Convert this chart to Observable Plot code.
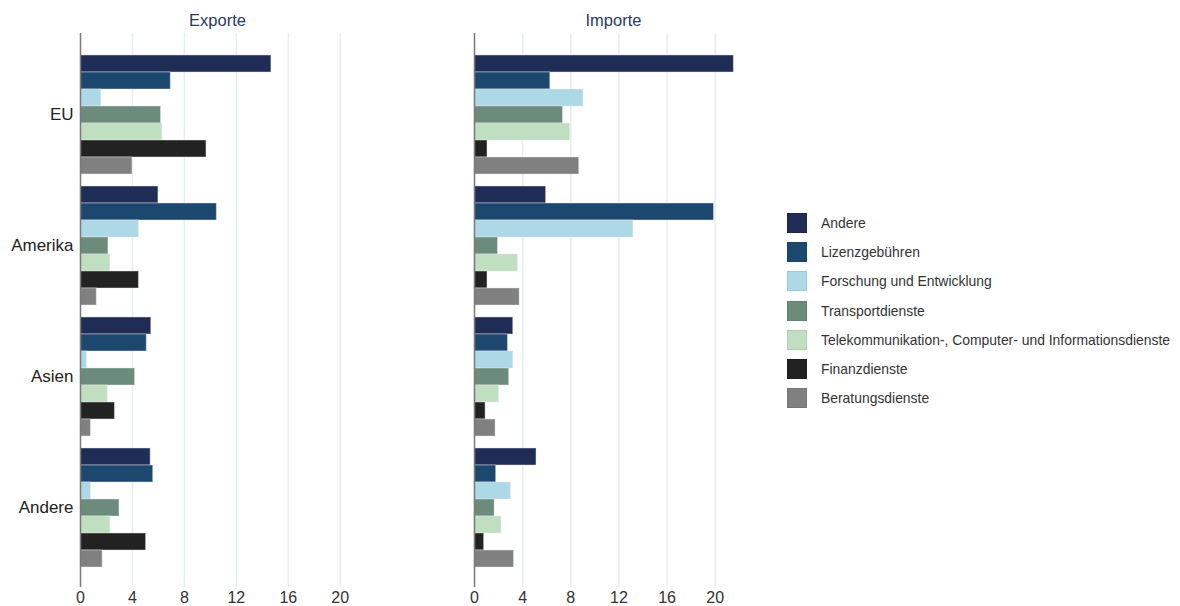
<!DOCTYPE html>
<html><head><meta charset="utf-8">
<script src="https://cdn.jsdelivr.net/npm/d3@7"></script>
<script src="https://cdn.jsdelivr.net/npm/@observablehq/plot@0.6"></script>
<style>
body{margin:0;background:#fff;font-family:"Liberation Sans",Arial,sans-serif;}
#wrap{display:flex;width:1180px;height:606px;}
.panel{position:relative;height:606px;}
.panel svg{position:absolute;left:0;top:0;}
#legend{margin-left:15px;margin-top:208px;}
.row{display:flex;align-items:center;height:29.3px;}
.sw{width:20px;height:20px;margin-right:14px;box-sizing:border-box;border:1px solid rgba(0,0,0,0.08);}
.lbl{font-size:13.9px;color:#333;white-space:nowrap;}
</style></head><body>
<div id="wrap"><div id="p1" class="panel"></div><div id="p2" class="panel"></div><div id="legend"></div></div>
<script>
const regions = ["EU", "Amerika", "Asien", "Andere"];
const series = ["Andere", "Lizenzgebühren", "Forschung und Entwicklung", "Transportdienste",
  "Telekommunikation-, Computer- und Informationsdienste", "Finanzdienste", "Beratungsdienste"];
const colors = ["#1f2c56", "#1c4870", "#add8e6", "#6b8b7d", "#c0dfc0", "#222222", "#808080"];
const xTicks = [0, 4, 8, 12, 16, 20];

// values per region, in series order
const exportEU      = [14.7, 6.95, 1.6, 6.2, 6.3, 9.7, 4.0];
const exportAmerika = [6.0, 10.5, 4.5, 2.15, 2.3, 4.5, 1.25];
const exportAsien   = [5.45, 5.1, 0.5, 4.2, 2.1, 2.65, 0.8];
const exportAndere  = [5.4, 5.6, 0.8, 3.0, 2.3, 5.05, 1.7];

const importEU      = [21.55, 6.3, 9.05, 7.35, 7.95, 1.08, 8.7];
const importAmerika = [5.95, 19.9, 13.2, 1.95, 3.6, 1.08, 3.75];
const importAsien   = [3.22, 2.78, 3.22, 2.88, 2.03, 0.92, 1.75];
const importAndere  = [5.15, 1.8, 3.02, 1.67, 2.24, 0.8, 3.28];

function rows(lists) {
  const out = [];
  regions.forEach((r, i) => lists[i].forEach((v, j) => out.push({region: r, series: series[j], value: v})));
  return out;
}
const exportRows = rows([exportEU, exportAmerika, exportAsien, exportAndere]);
const importRows = rows([importEU, importAmerika, importAsien, importAndere]);

const FONT = '"Liberation Sans", Arial, sans-serif';

function panel(el, title, data, xmax, showY, width, marginRight) {
  const common = {width, height: 606, marginTop: 33, marginBottom: 19, marginLeft: 80, marginRight,
    x: {domain: [0, xmax], axis: null}};
  el.style.width = width + "px";
  // background layer: grid, tick labels, title
  const bg = Plot.plot({
    ...common,
    style: {fontSize: "16px", fontFamily: FONT, background: "#fff"},
    marks: [
      Plot.ruleX(xTicks.slice(1), {x: d => d, stroke: "#e6eef2", strokeWidth: 1.5}),
      Plot.text(xTicks, {x: d => d, text: d => String(d), frameAnchor: "bottom", lineAnchor: "middle", dy: 10, fontSize: 16, fill: "#333"}),
      Plot.text([title], {text: d => d, frameAnchor: "top", lineAnchor: "middle", dy: -13, fontSize: 16.5, fill: "#2b3a63"})
    ]
  });
  // bar layer, faceted by region
  const bars = Plot.plot({
    ...common,
    style: {fontSize: "17px", fontFamily: FONT, color: "#222", background: "transparent"},
    y: {domain: series, axis: null, paddingInner: 0, paddingOuter: 0},
    fy: {domain: regions, paddingInner: 0.084, paddingOuter: 0.156, axis: showY ? "left" : null, label: null, tickSize: 0, tickPadding: 7},
    color: {domain: series, range: colors},
    marks: [
      Plot.barX(data, {x: "value", y: "series", fy: "region", fill: "series", stroke: "#e8e8e8", strokeOpacity: 0.45, strokeWidth: 1})
    ]
  });
  // top layer: zero axis line
  const top = Plot.plot({
    ...common,
    style: {background: "transparent"},
    marks: [Plot.ruleX([0], {x: d => d, stroke: "#7a7a7a", strokeWidth: 1.5})]
  });
  el.append(bg, bars, top);
}

panel(document.getElementById("p1"), "Exporte", exportRows, 21.1, true, 394, 40);
panel(document.getElementById("p2"), "Importe", importRows, 23.1, false, 378, 20);

const legend = document.getElementById("legend");
series.forEach((s, i) => {
  const row = document.createElement("div");
  row.className = "row";
  const sw = document.createElement("div");
  sw.className = "sw";
  sw.style.background = colors[i];
  const lb = document.createElement("span");
  lb.className = "lbl";
  lb.textContent = s;
  row.append(sw, lb);
  legend.append(row);
});
</script>
</body></html>
